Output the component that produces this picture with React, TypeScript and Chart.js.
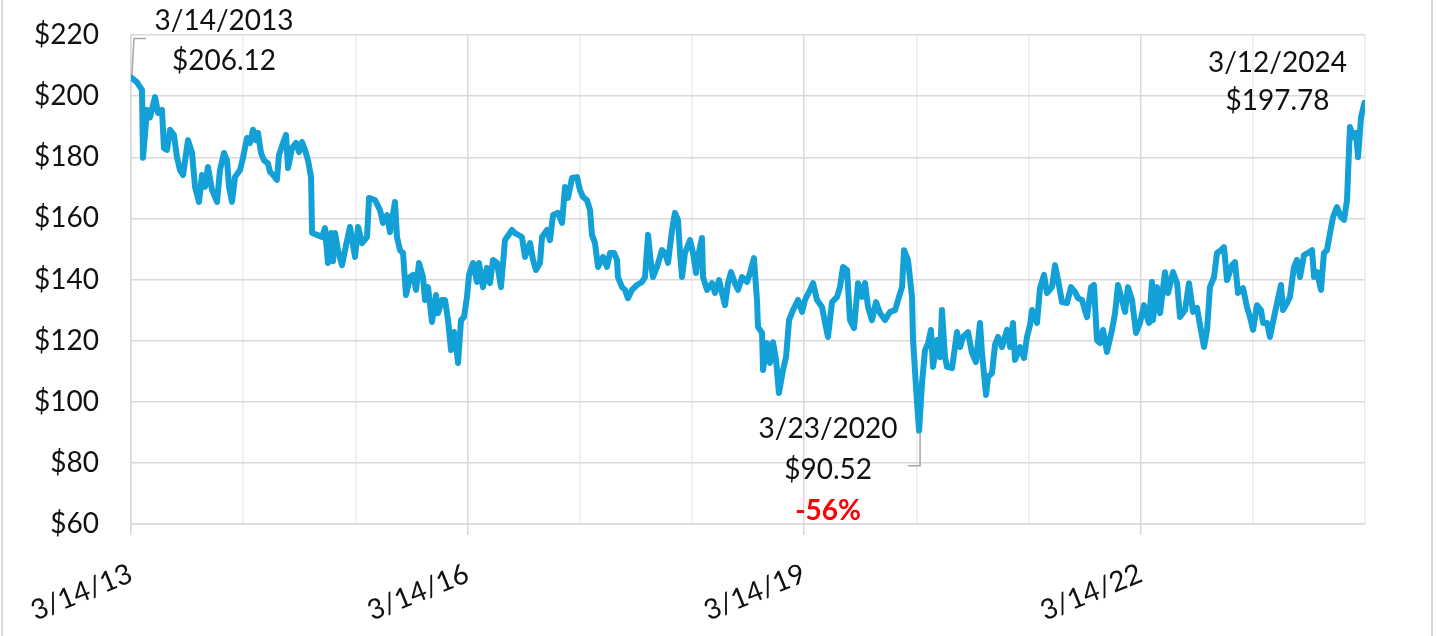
import React, { useEffect, useRef } from 'react';
import { Chart, registerables } from 'chart.js';

Chart.register(...registerables);

// Years elapsed since 3/14/2013
const tradeYears = [
  0, 0.053, 0.08, 0.098, 0.107, 0.143, 0.169, 0.214, 0.241, 0.276, 0.294, 0.321, 0.348, 0.383, 0.41, 0.437, 0.464,
  0.508, 0.544, 0.571, 0.606, 0.633, 0.66, 0.686, 0.722, 0.767, 0.793, 0.829, 0.856, 0.874, 0.9, 0.927, 0.972, 0.998,
  1.034, 1.061, 1.088, 1.114, 1.132, 1.159, 1.186, 1.221, 1.239, 1.266, 1.301, 1.319, 1.355, 1.382, 1.4, 1.435, 1.471,
  1.498, 1.524, 1.551, 1.578, 1.605, 1.614, 1.658, 1.703, 1.729, 1.756, 1.783, 1.801, 1.819, 1.845, 1.881, 1.908, 1.952,
  1.997, 2.024, 2.059, 2.104, 2.122, 2.175, 2.22, 2.246, 2.282, 2.309, 2.353, 2.371, 2.398, 2.425, 2.451, 2.487, 2.514,
  2.541, 2.567, 2.603, 2.621, 2.648, 2.683, 2.719, 2.737, 2.772, 2.799, 2.826, 2.853, 2.879, 2.906, 2.915, 2.942, 2.968,
  2.995, 3.013, 3.049, 3.084, 3.102, 3.138, 3.173, 3.2, 3.227, 3.263, 3.298, 3.334, 3.396, 3.423, 3.485, 3.512, 3.557,
  3.584, 3.61, 3.646, 3.664, 3.708, 3.735, 3.762, 3.806, 3.842, 3.869, 3.895, 3.931, 3.976, 4.002, 4.029, 4.065, 4.092,
  4.109, 4.136, 4.163, 4.208, 4.243, 4.27, 4.306, 4.332, 4.341, 4.377, 4.404, 4.43, 4.466, 4.511, 4.555, 4.582, 4.609,
  4.635, 4.653, 4.689, 4.733, 4.76, 4.787, 4.823, 4.849, 4.876, 4.894, 4.912, 4.938, 4.983, 5.01, 5.037, 5.054, 5.09,
  5.099, 5.135, 5.179, 5.206, 5.242, 5.268, 5.295, 5.322, 5.349, 5.384, 5.411, 5.447, 5.491, 5.518, 5.553, 5.58, 5.589,
  5.625, 5.634, 5.669, 5.696, 5.723, 5.75, 5.776, 5.812, 5.839, 5.866, 5.901, 5.946, 5.982, 6.008, 6.053, 6.08, 6.115,
  6.16, 6.187, 6.213, 6.249, 6.294, 6.32, 6.347, 6.383, 6.409, 6.445, 6.481, 6.516, 6.543, 6.57, 6.605, 6.641, 6.677,
  6.721, 6.766, 6.811, 6.846, 6.873, 6.891, 6.926, 6.962, 6.971, 7.007, 7.025, 7.051, 7.078, 7.105, 7.131, 7.149, 7.185,
  7.212, 7.229, 7.256, 7.274, 7.319, 7.363, 7.39, 7.417, 7.461, 7.497, 7.532, 7.568, 7.586, 7.622, 7.64, 7.675, 7.702,
  7.729, 7.764, 7.809, 7.836, 7.862, 7.88, 7.925, 7.96, 7.987, 8.014, 8.032, 8.076, 8.103, 8.139, 8.165, 8.21, 8.237,
  8.264, 8.299, 8.344, 8.379, 8.415, 8.442, 8.477, 8.522, 8.558, 8.584, 8.611, 8.638, 8.665, 8.7, 8.745, 8.772, 8.798,
  8.834, 8.861, 8.887, 8.923, 8.959, 8.994, 9.03, 9.057, 9.075, 9.101, 9.11, 9.146, 9.173, 9.217, 9.244, 9.289, 9.325,
  9.351, 9.396, 9.431, 9.467, 9.503, 9.529, 9.565, 9.592, 9.618, 9.654, 9.681, 9.717, 9.743, 9.77, 9.815, 9.841, 9.868,
  9.913, 9.948, 9.975, 10.002, 10.037, 10.073, 10.091, 10.127, 10.153, 10.189, 10.216, 10.251, 10.269, 10.305, 10.331,
  10.367, 10.394, 10.421, 10.456, 10.492, 10.528, 10.546, 10.572, 10.608, 10.634, 10.661, 10.688, 10.715, 10.75, 10.786,
  10.813, 10.84, 10.849, 10.866, 10.893, 10.92, 10.938, 10.965, 10.995,
];

const closePrices = [
  206.12, 204.6, 203, 202, 179.8, 195.5, 193, 199.7, 194.5, 195.5, 183, 182.4, 189, 187.3, 180, 175.8, 174.2,
  185.6, 181.4, 170.3, 165.4, 174.2, 170.3, 176.8, 169.3, 165.4, 175.8, 181.4, 179, 170.3, 165.4, 173.5, 175.8, 179.8,
  186.3, 184.7, 189, 185.6, 188, 181.4, 179, 178, 175.2, 174.2, 172.6, 180.7, 184.7, 187.3, 176.5, 183, 184.7,
  181.7, 185, 182.4, 179, 173.5, 155.2, 154.6, 153.9, 156.8, 145.4, 155.2, 146, 155.2, 149.6, 144.7, 149.6, 157.2,
  147.4, 157.2, 151.9, 153.9, 166.7, 166, 162.7, 158.5, 161.1, 155.5, 165.4, 153.9, 149.6, 148.7, 134.9, 140.8, 141.5,
  136.6, 145.4, 140.8, 133.3, 137.5, 126.1, 134.9, 129, 133.3, 133.3, 126.7, 116.9, 122.8, 115.9, 112.7, 126.7, 127.7,
  134.3, 141.5, 145.4, 139.2, 145.4, 137.5, 143.8, 138.8, 146.4, 145.4, 137.5, 152.9, 156.2, 155.2, 153.9, 147.4, 151.9,
  146.4, 143.1, 145.4, 153.9, 156.2, 152.9, 161.1, 161.8, 158.5, 170.3, 166.7, 173.2, 173.5, 169.3, 167, 166, 162.7,
  154.6, 151.9, 144.1, 147.4, 144.1, 148.7, 148.7, 146.4, 140.8, 137.5, 136.6, 133.9, 136.6, 138.2, 139.2, 140.8, 154.6,
  145.4, 140.8, 144.1, 149.6, 148.7, 145.4, 156.2, 161.8, 159.5, 148.7, 140.8, 148.7, 152.9, 148.7, 142.1, 147.4, 153.6,
  140.8, 136.6, 138.8, 135.6, 139.8, 135.6, 131.6, 138.8, 142.4, 138.8, 136.6, 140.8, 139.2, 142.1, 147, 133.3, 124.5,
  122.5, 110.4, 119.2, 112.7, 119.5, 113.7, 102.9, 110.4, 114.6, 126.7, 130, 133.3, 129.4, 133.3, 136.6, 138.8, 133.3,
  131, 125.8, 121.2, 132.6, 134.3, 137.5, 144.1, 143.1, 126.7, 124.1, 138.8, 134.3, 138.8, 131, 126.7, 132.6, 129,
  126.7, 129.4, 130, 134.3, 137.5, 149.6, 146.4, 134.3, 120.2, 99.6, 90.52, 106.1, 116.9, 119.2, 123.5, 111.4, 120.2,
  114.6, 130, 114.6, 111.4, 111, 122.8, 117.9, 121.2, 122.8, 115.9, 113, 125.8, 115.9, 102.2, 108.1, 109.4, 118.6,
  121.2, 117.9, 123.5, 117.9, 125.8, 113.7, 117.9, 114.3, 121.2, 125.1, 130, 125.8, 137.2, 141.5, 135.6, 137.5, 144.7,
  139.8, 132.6, 132.3, 137.5, 135.9, 133.9, 133.3, 127.7, 137.5, 138.2, 120.2, 119.2, 123.5, 116.3, 123.5, 129, 138.2,
  133.3, 129.4, 137.5, 133.3, 122.5, 125.8, 131.6, 127.7, 125.8, 139.2, 126.7, 137.5, 129, 142.4, 135.6, 142.4, 138.8,
  127.7, 130, 138.8, 129.4, 130.7, 125.1, 117.9, 123.5, 137.5, 140.8, 148.7, 149.6, 150.6, 139.8, 144.7, 145.7, 135.6,
  137.2, 131, 127.7, 123.5, 131.6, 130, 125.8, 125.8, 121.2, 127.7, 132.3, 138.2, 130, 132.3, 134.3,
  144.1, 146.4, 140.8, 148, 148.7, 149.6, 140.8, 142.4, 136.6, 148.7, 149.6, 155.2, 160.4, 163.7, 160.4,
  159.5, 166, 174.8, 189.9, 186.6, 188, 180, 193.2, 197.78,
];

const xLabelYears = [0, 3, 6, 9];
const xLabels = ['3/14/13', '3/14/16', '3/14/19', '3/14/22'];
const yMin = 60;
const yMax = 220;
const yStep = 20;

const noteDates = ['3/14/2013', '3/23/2020', '3/12/2024'];
const noteYears = [0, 7.025, 10.995];
const notePrices = [206.12, 90.52, 197.78];

const FONT = 'Lato, "Open Sans", sans-serif';
const LINE_COLOR = '#12A0D7';
const GRID = '#d9d9d9';
const GRID_MINOR = '#ececec';

const notesPlugin = {
  id: 'notes',
  beforeDraw(chart: any) {
    const { ctx, width, height } = chart;
    ctx.save();
    ctx.strokeStyle = GRID;
    ctx.lineWidth = 2;
    ctx.beginPath();
    ctx.moveTo(2, 0);
    ctx.lineTo(2, height);
    ctx.moveTo(width - 5, 0);
    ctx.lineTo(width - 5, height);
    ctx.stroke();
    ctx.restore();
  },
  afterDatasetsDraw(chart: any) {
    const { ctx } = chart;
    const xs = chart.scales.x;
    const ys = chart.scales.y;
    const pts = noteYears.map((t, i) => ({ x: xs.getPixelForValue(t), y: ys.getPixelForValue(notePrices[i]) }));
    const money = (v: number) => '$' + v.toFixed(2);
    const drop = Math.round((notePrices[1] / notePrices[0] - 1) * 100) + '%';

    ctx.save();
    ctx.strokeStyle = '#a6a6a6';
    ctx.lineWidth = 1.5;
    let p = pts[0];
    ctx.beginPath();
    ctx.moveTo(p.x + 1, p.y - 3);
    ctx.lineTo(p.x + 3, p.y - 39);
    ctx.lineTo(p.x + 15, p.y - 39);
    ctx.stroke();
    p = pts[1];
    ctx.beginPath();
    ctx.moveTo(p.x + 1, p.y + 2);
    ctx.lineTo(p.x + 1, p.y + 35);
    ctx.lineTo(p.x - 11, p.y + 35);
    ctx.stroke();

    ctx.font = '28px ' + FONT;
    ctx.fillStyle = '#111';
    ctx.textAlign = 'center';
    ctx.textBaseline = 'middle';
    p = pts[0];
    ctx.fillText(noteDates[0], p.x + 93, p.y - 56);
    ctx.fillText(money(notePrices[0]), p.x + 93, p.y - 16);
    p = pts[1];
    ctx.fillText(noteDates[1], p.x - 91, p.y - 2);
    ctx.fillText(money(notePrices[1]), p.x - 91, p.y + 39);
    p = pts[2];
    ctx.fillText(noteDates[2], p.x - 87, p.y - 40);
    ctx.fillText(money(notePrices[2]), p.x - 87, p.y - 2);
    p = pts[1];
    ctx.font = 'bold 28px ' + FONT;
    ctx.fillStyle = '#ff0000';
    ctx.fillText(drop, p.x - 91, p.y + 80);
    ctx.restore();
  },
};

export default function App() {
  const ref = useRef<HTMLCanvasElement | null>(null);

  useEffect(() => {
    document.body.style.margin = '0';
    const canvas = ref.current;
    if (!canvas) return;
    const data = tradeYears.map((t, i) => ({ x: t, y: closePrices[i] }));
    const isMajor = (ctx: any) => ctx.tick && xLabelYears.includes(ctx.tick.value);
    const chart = new Chart(canvas, {
      type: 'line',
      data: {
        datasets: [
          {
            data,
            borderColor: LINE_COLOR,
            borderWidth: 6,
            pointRadius: 0,
            tension: 0,
            borderJoinStyle: 'round',
            borderCapStyle: 'round',
            fill: false,
          },
        ],
      },
      options: {
        animation: false,
        responsive: true,
        maintainAspectRatio: false,
        parsing: false,
        normalized: true,
        layout: { padding: { top: 35, right: 72, left: 0, bottom: 0 } },
        plugins: { legend: { display: false }, tooltip: { enabled: false } },
        scales: {
          x: {
            type: 'linear',
            min: 0,
            max: 11,
            afterFit: (s: any) => {
              s.height = 112;
              s.paddingLeft = 0;
              s.paddingRight = 0;
              s.paddingTop = 0;
              s.paddingBottom = 0;
            },
            grid: {
              color: (c: any) => (isMajor(c) ? GRID : GRID_MINOR),
              lineWidth: 1.5,
              drawTicks: true,
              tickLength: 11,
              tickColor: (c: any) => (isMajor(c) ? GRID : 'rgba(0,0,0,0)'),
            },
            border: { color: GRID, width: 1.5 },
            ticks: {
              stepSize: 1,
              autoSkip: false,
              minRotation: 22,
              maxRotation: 22,
              padding: 22,
              color: '#111',
              font: { family: FONT, size: 28 },
              callback: (v: any) => {
                const i = xLabelYears.indexOf(Number(v));
                return i >= 0 ? xLabels[i] : '';
              },
            },
          },
          y: {
            min: yMin,
            max: yMax,
            afterFit: (s: any) => {
              s.width = 131;
              s.paddingTop = 0;
              s.paddingBottom = 0;
              s.paddingLeft = 0;
              s.paddingRight = 0;
            },
            grid: { color: GRID, lineWidth: 1.5, drawTicks: false },
            border: { color: GRID, width: 1.5 },
            ticks: {
              stepSize: yStep,
              padding: 32,
              color: '#111',
              font: { family: FONT, size: 28 },
              callback: (v: any) => '$' + v,
            },
          },
        },
      },
      plugins: [notesPlugin],
    } as any);
    return () => chart.destroy();
  }, []);

  return (
    <div style={{ position: 'absolute', left: 0, top: 0, width: 1437, height: 636, background: '#fff' }}>
      <canvas ref={ref} />
    </div>
  );
}
